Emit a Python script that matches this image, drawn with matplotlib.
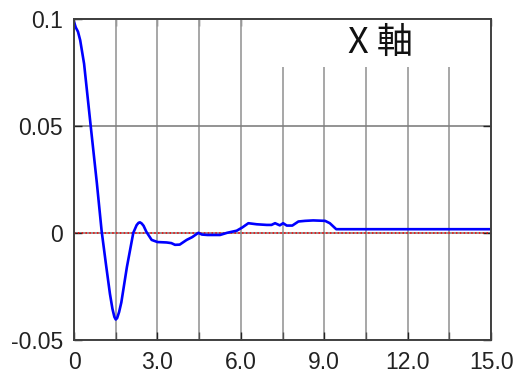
import matplotlib
matplotlib.use("Agg")
import matplotlib.pyplot as plt
from matplotlib.patches import Rectangle

# time (s) and displacement
t = [0, 0.06, 0.14, 0.22, 0.36, 0.6, 0.82, 0.99, 1.15, 1.29, 1.38,
     1.45, 1.5, 1.55, 1.62, 1.7, 1.9, 2.13, 2.25, 2.32, 2.37, 2.43, 2.5, 2.6, 2.79,
     3.0, 3.33, 3.5, 3.63, 3.8, 4.05, 4.25, 4.47, 4.6, 4.8,
     5.25, 5.5, 5.85, 6.05, 6.27, 6.57, 6.93, 7.1, 7.23, 7.4,
     7.52, 7.65, 7.85, 8.07, 8.31, 8.6, 9.03, 9.2, 9.43, 15.0]
disp = [0.0985, 0.096, 0.094, 0.09, 0.079, 0.0497, 0.0232, 0.001, -0.015, -0.0285, -0.0355,
        -0.0393, -0.0405, -0.0398, -0.037, -0.0325, -0.016, 0.0, 0.0036, 0.0047, 0.0049, 0.0044, 0.0033, 0.0005, -0.0033,
        -0.0043, -0.0045, -0.0048, -0.0056, -0.0055, -0.0033, -0.002, 0.0, -0.0008, -0.001,
        -0.001, 0.0, 0.001, 0.0025, 0.0045, 0.004, 0.0037, 0.0037, 0.0045, 0.0035,
        0.0045, 0.0034, 0.0034, 0.0053, 0.0056, 0.0058, 0.0056, 0.0045, 0.0017, 0.0017]

x_ticks = [0, 3, 6, 9, 12, 15]
x_labels = ["0", "3.0", "6.0", "9.0", "12.0", "15.0"]
x_minor = [1.5, 4.5, 7.5, 10.5, 13.5]
y_ticks = [-0.05, 0, 0.05, 0.1]
y_labels = ["-0.05", "0", "0.05", "0.1"]
title = "X 軸"

fig = plt.figure(figsize=(5.18, 3.69), dpi=100)
ax = fig.add_axes([0.143, 0.079, 0.805, 0.870])

ax.plot(t, disp, color="#0000ff", lw=1.9, zorder=4)
ax.axhline(0, color="red", lw=1.1, ls=(0, (1, 1.5)), zorder=3)

ax.set_xlim(0, 15)
ax.set_ylim(-0.05, 0.1)
ax.set_xticks(x_ticks)
ax.set_xticklabels(x_labels)
ax.set_xticks(x_minor, minor=True)
ax.set_yticks(y_ticks)
ax.set_yticklabels(y_labels)

ax.grid(True, which="both", axis="x", color="#a0a0a0", lw=1.3)
ax.grid(True, which="major", axis="y", color="#808080", lw=1.2)

ax.tick_params(which="both", direction="in", top=False, right=True,
               length=6, width=1, color="#505050")
ax.tick_params(axis="both", labelsize=16.5, colors="#222222", pad=8)
for lab in ax.get_xticklabels() + ax.get_yticklabels():
    lab.set_family("Liberation Sans")
    lab.set_color("#222222")

for s in ax.spines.values():
    s.set_color("#404040")
    s.set_linewidth(1.4)
    s.set_zorder(6)

# white box behind the label hides the grid there
ax.add_patch(Rectangle((0.48, 0.85), 0.52, 0.15, transform=ax.transAxes,
                       facecolor="white", edgecolor="none", zorder=2.6))
ax.text(0.736, 0.925, title, transform=ax.transAxes, ha="center", va="center",
        fontsize=26, family=["Noto Sans CJK JP", "DejaVu Sans"],
        color="#111111", zorder=5)

# top ticks stay visible above the white box
top = ax.secondary_xaxis("top")
top.set_xticks(sorted(x_ticks + x_minor))
top.tick_params(direction="in", length=5, width=1, color="#505050",
                labeltop=False)
top.spines["top"].set_color("#404040")
top.spines["top"].set_linewidth(1.4)

fig.savefig("out.png", dpi=100)
plt.close(fig)
